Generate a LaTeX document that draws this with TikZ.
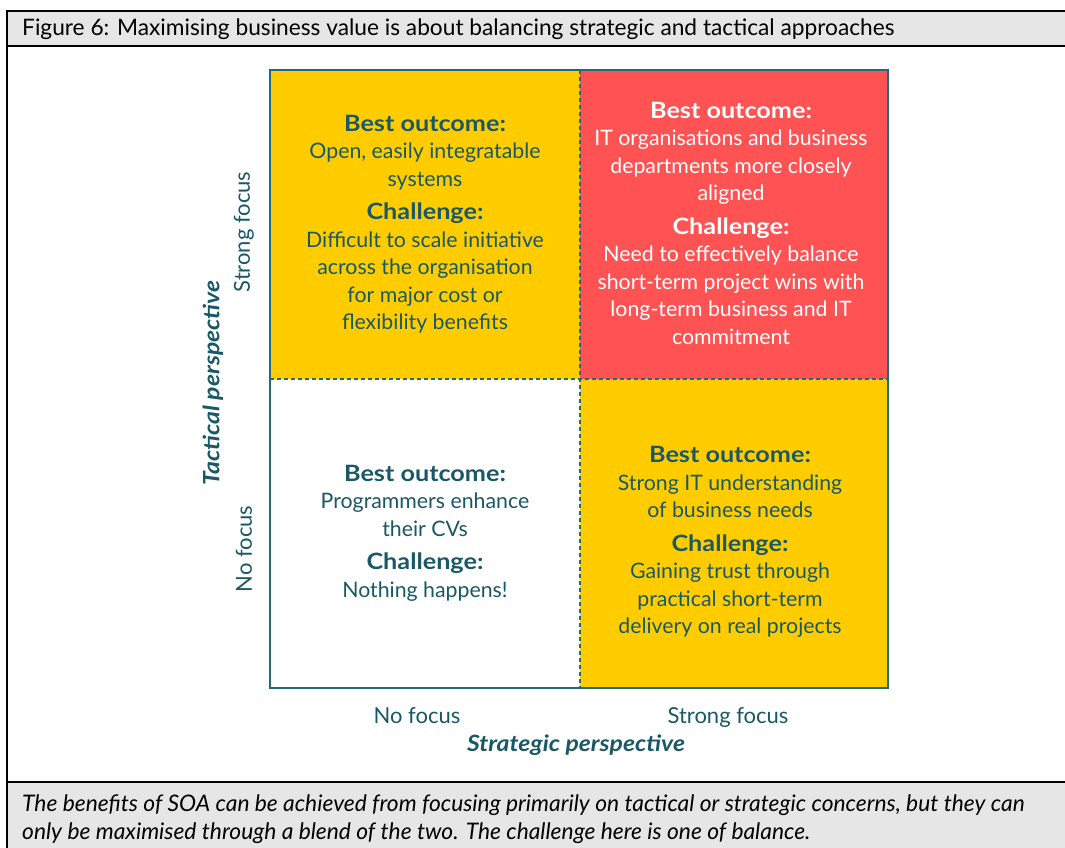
\documentclass[tikz,border=0pt]{standalone}
\usepackage{fontspec}
\usepackage{graphicx}
\setmainfont{Lato}
\usetikzlibrary{calc}
\definecolor{teal}{HTML}{1A5866}
\definecolor{gridline}{HTML}{23697C}
\definecolor{qyellow}{HTML}{FFCC00}
\definecolor{qred}{HTML}{FF5252}
\definecolor{barfill}{HTML}{E6E6E6}
\tikzset{
  celltext/.style={align=center, text=teal, font=\fontsize{21.3}{27.5}\selectfont},
  redtext/.style={celltext, text=white},
  axislab/.style={text=teal, font=\fontsize{22}{24}\selectfont},
  axistitle/.style={text=teal, font=\fontsize{22.5}{24}\selectfont\bfseries\itshape},
  frameline/.style={line width=2.4pt, black},
}
\newcommand{\hd}[1]{\scalebox{1.12}[1]{\fontsize{22.5}{27.5}\selectfont\bfseries #1}}
\newcommand{\axt}[1]{\scalebox{1.1}[1]{#1}}
\begin{document}
\begin{tikzpicture}[x=1pt,y=-1pt]
\useasboundingbox (0,0) rectangle (1065,848);
% bars
\fill[barfill] (7,11) rectangle (1070,46);
\fill[barfill] (7,782) rectangle (1070,850);
\draw[frameline] (1070,11) -- (7,11) -- (7,850);
\draw[frameline] (7,46) -- (1070,46);
\draw[frameline] (7,782) -- (1070,782);
\node[anchor=base west, inner sep=0pt, font=\fontsize{22.7}{24}\selectfont] (title) at (22,36) {Figure 6: Maximising business value is about balancing strategic and tactical approaches};
\node[anchor=north west, align=left, inner sep=0pt, font=\fontsize{22.8}{28}\selectfont\itshape] (caption) at (22,794) {The benefits of SOA can be achieved from focusing primarily on tactical or strategic concerns, but they can\\only be maximised through a blend of the two. The challenge here is one of balance.};
% quadrants
\coordinate (tl) at (270,70);
\coordinate (mm) at (580,379);
\coordinate (br) at (888,688);
\fill[qyellow] (270,70) rectangle (580,379);
\fill[qred] (580,70) rectangle (888,379);
\fill[white] (270,379) rectangle (580,688);
\fill[qyellow] (580,379) rectangle (888,688);
\draw[gridline, line width=1.3pt, dash pattern=on 4pt off 3pt] (270,379) -- (888,379);
\draw[gridline, line width=1.3pt, dash pattern=on 4pt off 3pt] (580,70) -- (580,688);
\draw[gridline, line width=2pt] (tl) rectangle (br);
% cell texts
\node[celltext] (q1) at (425,224) {\hd{Best outcome:}\\Open, easily integratable\\systems\\[6pt]\hd{Challenge:}\\Difficult to scale initiative\\across the organisation\\for major cost or\\flexibility benefits};
\node[redtext] (q2) at (731,223) {\hd{Best outcome:}\\IT organisations and business\\departments more closely\\aligned\\[6pt]\hd{Challenge:}\\Need to effectively balance\\short-term project wins with\\long-term business and IT\\commitment};
\node[celltext] (q3) at (425,533) {\hd{Best outcome:}\\Programmers enhance\\their CVs\\[6pt]\hd{Challenge:}\\Nothing happens!};
\node[celltext] (q4) at (730,542) {\hd{Best outcome:}\\Strong IT understanding\\of business needs\\[6pt]\hd{Challenge:}\\Gaining trust through\\practical short-term\\delivery on real projects};
% axis labels
\node[axislab, anchor=base] (xno) at (417,723) {No focus};
\node[axislab, anchor=base] (xstrong) at (728,723) {Strong focus};
\node[axistitle] (xtitle) at (576,745) {\axt{Strategic perspective}};
\node[axislab, rotate=90] (ystrong) at (244,232) {Strong focus};
\node[axislab, rotate=90] (yno) at (244,549) {No focus};
\node[axistitle, rotate=90] (ytitle) at (213,383) {\axt{Tactical perspective}};
\end{tikzpicture}
\end{document}
